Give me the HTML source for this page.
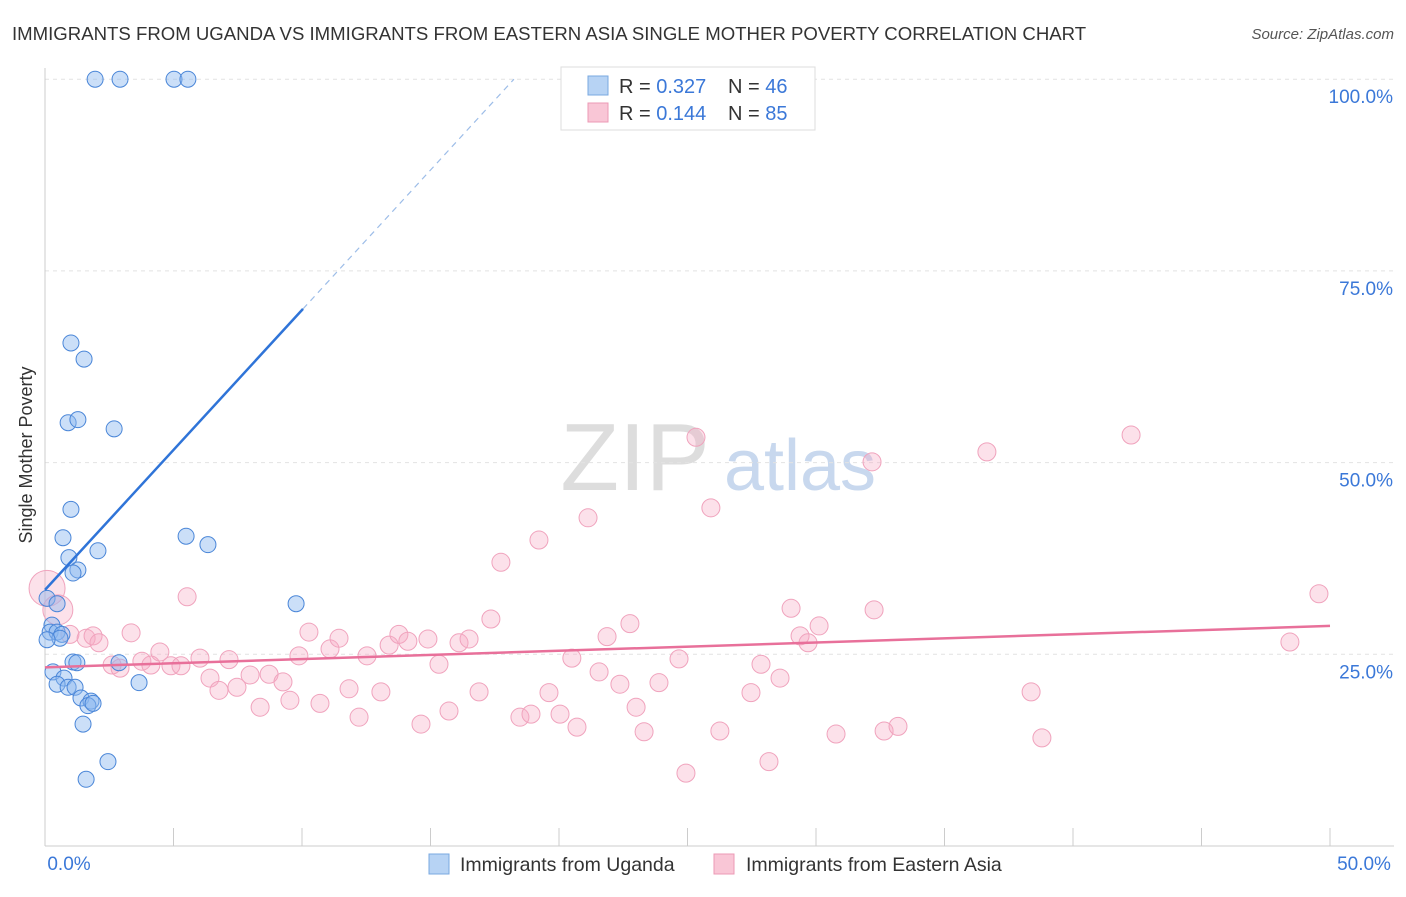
<!DOCTYPE html>
<html><head><meta charset="utf-8">
<style>
body{margin:0;background:#fff;font-family:"Liberation Sans",sans-serif;}
svg text{font-family:"Liberation Sans",sans-serif;}
</style></head>
<body>
<svg id="chart" width="1406" height="892" viewBox="0 0 1406 892" xmlns="http://www.w3.org/2000/svg">
<text x="12" y="40" font-size="18.6" fill="#333">IMMIGRANTS FROM UGANDA VS IMMIGRANTS FROM EASTERN ASIA SINGLE MOTHER POVERTY CORRELATION CHART</text>
<text x="1394" y="39" font-size="15" fill="#555" text-anchor="end" font-style="italic">Source: ZipAtlas.com</text>
<g>
<text x="635" y="490" font-size="96" fill="#ddd" text-anchor="middle" font-family="Liberation Serif,serif">ZIP</text>
<text x="800" y="490" font-size="72" fill="#c8d8ee" text-anchor="middle">atlas</text>
</g>
<g id="grid"></g>
<g id="axes"></g>
<g id="marks"></g>
<g>
<rect x="561" y="67" width="254" height="63" fill="#fff" stroke="#ddd"/>
<rect x="588" y="76" width="20" height="19" fill="#b7d3f4" stroke="#7aa8e0"/>
<rect x="588" y="103" width="20" height="19" fill="#f9c6d6" stroke="#ec9ab5"/>
<text x="619" y="93" font-size="20" fill="#333">R = <tspan fill="#3b78d8">0.327</tspan></text>
<text x="728" y="93" font-size="20" fill="#333">N = <tspan fill="#3b78d8">46</tspan></text>
<text x="619" y="120" font-size="20" fill="#333">R = <tspan fill="#3b78d8">0.144</tspan></text>
<text x="728" y="120" font-size="20" fill="#333">N = <tspan fill="#3b78d8">85</tspan></text>
</g>
<g>
<rect x="429" y="854" width="20" height="20" fill="#b7d3f4" stroke="#7aa8e0"/>
<text x="460" y="871" font-size="19.5" fill="#333">Immigrants from Uganda</text>
<rect x="714" y="854" width="20" height="20" fill="#f9c6d6" stroke="#ec9ab5"/>
<text x="746" y="871" font-size="19.5" fill="#333">Immigrants from Eastern Asia</text>
</g>
<text x="32" y="455" font-size="18" fill="#333" text-anchor="middle" transform="rotate(-90 32 455)">Single Mother Poverty</text>
</svg>
<script>
const ugandaX=[1.95,2.92,5.02,5.56,1.01,1.52,0.9,1.28,2.69,1.01,0.7,5.49,6.34,2.06,0.93,1.28,1.09,0.08,0.47,9.77,0.27,0.2,0.47,0.66,0.58,0.08,1.09,1.24,2.88,0.31,0.74,0.47,3.66,0.9,1.17,1.4,1.79,1.67,1.87,1.48,2.45,1.6];
const ugandaY=[100,100,100,100,65.6,63.5,55.2,55.6,54.4,43.9,40.2,40.4,39.3,38.5,37.6,36.0,35.6,32.3,31.6,31.6,28.8,27.9,27.9,27.6,27.1,26.9,24.0,23.9,23.9,22.7,21.9,21.1,21.3,20.7,20.7,19.3,18.9,18.3,18.6,15.9,11.0,8.7];
const asiaX=[0.08,0.5,0.97,1.6,1.87,2.1,3.35,5.53,4.47,2.61,2.92,3.77,4.12,4.9,5.29,6.03,6.42,6.77,7.16,7.47,7.98,8.37,8.72,9.26,9.53,9.88,10.27,10.7,11.09,11.44,11.83,12.22,12.53,13.07,13.39,13.77,14.12,14.63,14.9,15.33,15.72,16.11,16.5,16.89,17.35,17.74,18.48,18.91,19.22,19.61,20.04,20.5,20.7,21.13,21.56,21.87,22.37,22.76,23.0,23.31,23.89,24.67,24.94,25.33,25.91,26.26,27.47,27.86,28.17,28.6,29.03,29.38,29.69,30.12,30.78,32.18,32.26,32.65,33.19,36.65,38.37,38.79,42.26,48.44,49.57];
const asiaY=[33.6,30.8,27.6,27.1,27.4,26.5,27.8,32.5,25.3,23.6,23.2,24.1,23.6,23.5,23.5,24.5,21.9,20.3,24.3,20.7,22.3,18.1,22.4,21.4,19.0,24.8,27.9,18.6,25.7,27.1,20.5,16.8,24.8,20.1,26.2,27.6,26.7,15.9,27.0,23.7,17.6,26.5,27.0,20.1,29.6,37.0,16.8,17.2,39.9,20.0,17.2,24.5,15.5,42.8,22.7,27.3,21.1,29.0,18.1,14.9,21.3,24.4,9.5,53.3,44.1,15.0,20.0,23.7,11.0,21.9,31.0,27.4,26.5,28.7,14.6,50.1,30.8,15.0,15.6,51.4,20.1,14.1,53.6,26.6,32.9];
const asiaR=[18,15];
const yTicks=[25,50,75,100];
const xTicks=[0,5,10,15,20,25,30,35,40,45,50];
const ugandaTrend=[33.4,3.65];   // intercept, slope
const asiaTrend=[23.3,0.108];

const NS="http://www.w3.org/2000/svg";
const X=v=>45+v*25.7, Y=v=>846-v*7.668;
function mk(tag,attrs,parent){const e=document.createElementNS(NS,tag);for(const k in attrs)e.setAttribute(k,attrs[k]);document.getElementById(parent).appendChild(e);return e;}
yTicks.forEach(t=>{
  const l=mk('line',{x1:45,x2:1394,y1:Y(t),y2:Y(t),stroke:'#e2e2e2','stroke-dasharray':'4,4'},'grid');
  
  
  const tx=mk('text',{x:1393,y:Y(t)+24,'font-size':19,fill:'#3b78d8','text-anchor':'end'},'axes');
  tx.textContent=t.toFixed(1)+'%';
  
  
});
const ya=mk('line',{x1:45,x2:45,y1:68,y2:846,stroke:'#ccc'},'axes');


const xa=mk('line',{x1:45,x2:1394,y1:846,y2:846,stroke:'#ccc'},'axes');


xTicks.forEach(t=>{
  const l=mk('line',{x1:X(t),x2:X(t),y1:828,y2:846,stroke:'#ccc'},'axes');
  
  
});
[[0,'0.0%',69],[50,'50.0%',1364]].forEach(a=>{
  const tx=mk('text',{x:a[2],y:870,'font-size':19,fill:'#3b78d8','text-anchor':'middle'},'axes');
  tx.textContent=a[1];
  
  
});
asiaX.forEach((x,i)=>{
  const c=mk('circle',{cx:X(x),cy:Y(asiaY[i]),r:i<asiaR.length?asiaR[i]:9,fill:'rgba(246,170,196,0.35)',stroke:'#f0a3bd','stroke-width':1},'marks');
  
  
});
ugandaX.forEach((x,i)=>{
  const c=mk('circle',{cx:X(x),cy:Y(ugandaY[i]),r:8,fill:'rgba(140,185,240,0.45)',stroke:'#4a86d8','stroke-width':1},'marks');
  
  
});
const ue=10.04, ud=(100-ugandaTrend[0])/ugandaTrend[1];
const ul=mk('line',{x1:X(0),y1:Y(ugandaTrend[0]),x2:X(ue),y2:Y(ugandaTrend[0]+ugandaTrend[1]*ue),stroke:'#2f74d8','stroke-width':2.5},'marks');


const ud2=mk('line',{x1:X(ue),y1:Y(ugandaTrend[0]+ugandaTrend[1]*ue),x2:X(ud),y2:Y(100),stroke:'#9dbde8','stroke-width':1.2,'stroke-dasharray':'6,5'},'marks');


const al=mk('line',{x1:X(0),y1:Y(asiaTrend[0]),x2:X(50),y2:Y(asiaTrend[0]+asiaTrend[1]*50),stroke:'#e8709a','stroke-width':2.5},'marks');


</script>
</body></html>
